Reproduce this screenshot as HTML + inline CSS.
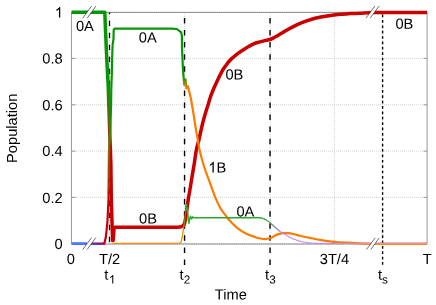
<!DOCTYPE html>
<html><head><meta charset="utf-8">
<style>
html,body{margin:0;padding:0;background:#fff;}
svg{display:block;will-change:transform;}
text{font-family:"Liberation Sans",sans-serif;font-size:14.67px;fill:#000;}
.sub{font-size:11.73px;}
</style></head><body>
<svg width="436" height="305" viewBox="0 0 436 305">
<defs>
<linearGradient id="gThick" gradientUnits="userSpaceOnUse" x1="0" y1="85" x2="0" y2="152">
<stop offset="0" stop-color="#059605"/><stop offset="0.5" stop-color="#7a5a05"/><stop offset="1" stop-color="#ca0000"/>
</linearGradient>
<linearGradient id="gMed" gradientUnits="userSpaceOnUse" x1="0" y1="115" x2="0" y2="203">
<stop offset="0" stop-color="#059605"/><stop offset="0.2" stop-color="#3a8a08"/><stop offset="0.4" stop-color="#7a6c00"/><stop offset="0.72" stop-color="#a44000"/><stop offset="1" stop-color="#ca0000"/>
</linearGradient>
<linearGradient id="gBlue" gradientUnits="userSpaceOnUse" x1="90" y1="0" x2="105.5" y2="0">
<stop offset="0" stop-color="#4a40e0"/><stop offset="0.5" stop-color="#5a22c8"/><stop offset="0.85" stop-color="#8a14a0"/><stop offset="1" stop-color="#c00838"/>
</linearGradient>
<linearGradient id="gLav" gradientUnits="userSpaceOnUse" x1="104" y1="0" x2="114" y2="0">
<stop offset="0" stop-color="#c0a8e8"/><stop offset="0.6" stop-color="#d8c8e0"/><stop offset="1" stop-color="#ff8c10"/>
</linearGradient>
<linearGradient id="gGO" gradientUnits="userSpaceOnUse" x1="0" y1="76" x2="0" y2="89">
<stop offset="0" stop-color="#059605"/><stop offset="0.6" stop-color="#969000"/><stop offset="1" stop-color="#ff7a00"/>
</linearGradient>
<linearGradient id="gThinUp" gradientUnits="userSpaceOnUse" x1="0" y1="243" x2="0" y2="208">
<stop offset="0" stop-color="#ff8c10"/><stop offset="0.35" stop-color="#c8a000"/><stop offset="0.7" stop-color="#6a8a00"/><stop offset="1" stop-color="#10a010"/>
</linearGradient>
<linearGradient id="gThinDn" gradientUnits="userSpaceOnUse" x1="267" y1="0" x2="281" y2="0">
<stop offset="0" stop-color="#2aa82a"/><stop offset="0.45" stop-color="#708898"/><stop offset="1" stop-color="#b888f0"/>
</linearGradient>
<path id="one" d="M763,0H583V1147Q518,1085 412.5,1023Q307,961 223,930V1104Q374,1175 487,1276Q600,1377 647,1472H763Z"/>
<linearGradient id="gTail" gradientUnits="userSpaceOnUse" x1="300" y1="0" x2="370" y2="0">
<stop offset="0" stop-color="#b888f0"/><stop offset="1" stop-color="#d890c8"/>
</linearGradient>
</defs>
<rect width="436" height="305" fill="#fff"/>
<!-- grid -->
<g stroke="#c8c8c8" stroke-width="0.8" stroke-dasharray="1 1" fill="none">
<path d="M72,58.4H427M72,104.8H427M72,151.1H427M72,197.4H427"/>
<path d="M109.5,12V243.5M184.5,12V243.5M270.2,12V243.5M334.4,12V243.5M382.5,12V243.5"/>
</g>
<!-- frame -->
<g stroke="#989898" stroke-width="1" fill="none">
<path d="M71.45,12.4H427.1V244H71.45Z"/>
<path d="M72,12.4H427M72,244H427" stroke="#707070" stroke-dasharray="1 1.1" stroke-opacity="0.6"/>
<path d="M72,58.4h3.5M72,104.8h3.5M72,151.1h3.5M72,197.4h3.5M427,58.4h-3.5M427,104.8h-3.5M427,151.1h-3.5M427,197.4h-3.5M334.4,244v-3.5M334.4,12.4v3.5"/>
</g>
<!-- vertical marker lines -->
<g stroke="#000" fill="none">
<path d="M109.5,12.4V243.8" stroke-width="1.3" stroke-dasharray="5.2 6.8" stroke-dashoffset="3.6"/>
<path d="M184.55,265V12.4" stroke-width="1.4" stroke-dasharray="5.5 6.58"/>
<path d="M270.05,265V12.4" stroke-width="1.4" stroke-dasharray="5.5 6.58"/>
<path d="M382.6,264.8V12.4" stroke-width="1.4" stroke-dasharray="2.7 2.68"/>
</g>
<!-- thick line -->
<g fill="none" stroke-width="3.5" stroke-linejoin="round">
<path d="M71.50,12.35L104.80,12.35L105.30,25.00L106.50,53.00L107.60,75.00L108.20,85.00L108.70,103.00L109.60,128.00L110.40,150.00L110.90,165.00L111.30,200.00L112.20,228.00L112.60,240.50L113.20,240.50L114.00,229.00L115.00,227.25L172.00,227.25" stroke="url(#gThick)"/>
<path d="M172.00,227.25C173.00,227.24 176.50,227.27 178.00,227.20C179.50,227.12 180.17,227.03 181.00,226.80C181.83,226.57 182.42,226.35 183.00,225.80C183.58,225.25 184.12,224.47 184.50,223.50C184.88,222.53 185.08,221.08 185.30,220.00C185.52,218.92 185.55,218.67 185.80,217.00C186.05,215.33 186.50,212.17 186.80,210.00C187.10,207.83 187.31,206.10 187.60,204.00C187.89,201.90 188.17,199.73 188.55,197.40C188.93,195.07 189.33,193.40 189.90,190.00C190.47,186.60 191.28,181.33 192.00,177.00C192.72,172.67 193.47,168.50 194.20,164.00C194.92,159.50 195.57,154.00 196.35,150.00C197.13,146.00 197.96,144.00 198.90,140.00C199.84,136.00 201.05,130.00 202.00,126.00C202.95,122.00 203.60,119.52 204.60,116.00C205.60,112.48 207.08,107.90 208.00,104.90C208.92,101.90 209.32,100.32 210.10,98.00C210.88,95.68 211.75,93.33 212.70,91.00C213.65,88.67 214.73,86.33 215.80,84.00C216.87,81.67 217.94,79.33 219.10,77.00C220.26,74.67 221.68,71.83 222.75,70.00C223.82,68.17 224.54,67.33 225.50,66.00C226.46,64.67 227.42,63.27 228.50,62.00C229.58,60.73 230.42,59.83 232.00,58.40C233.58,56.97 235.83,55.02 238.00,53.40C240.17,51.78 242.38,50.30 245.00,48.70C247.62,47.10 251.20,44.93 253.70,43.80C256.20,42.67 258.17,42.43 260.00,41.90C261.83,41.37 263.03,41.00 264.70,40.60C266.37,40.20 268.45,40.00 270.00,39.50C271.55,39.00 272.62,38.30 274.00,37.60C275.38,36.90 276.05,36.60 278.30,35.30C280.55,34.00 284.43,31.55 287.50,29.80C290.57,28.05 293.63,26.25 296.70,24.80C299.77,23.35 302.85,22.20 305.90,21.10C308.95,20.00 311.95,18.98 315.00,18.20C318.05,17.42 321.13,16.92 324.20,16.40C327.27,15.88 330.77,15.47 333.40,15.10C336.03,14.73 337.23,14.45 340.00,14.20C342.77,13.95 346.67,13.77 350.00,13.60C353.33,13.43 356.67,13.36 360.00,13.20C363.33,13.04 366.67,12.78 370.00,12.65C373.33,12.53 370.50,12.49 380.00,12.45C389.50,12.41 419.17,12.41 427.00,12.40" stroke="#ca0000"/>
</g>
<!-- medium line -->
<g fill="none" stroke-width="2.2" stroke-linejoin="round">
<path d="M71.5,243.6H87" stroke="#5078ff" stroke-width="2.8"/>
<path d="M90,242.9H104" stroke="#e86030" stroke-width="1.2"/>
<path d="M104,243.5H114" stroke="url(#gLav)" stroke-width="1.3"/>
<path d="M90,243.9H105.2" stroke="url(#gBlue)" stroke-width="2"/>
<path d="M103.8,243.9L104.9,241.5L106,236L106.8,228L107.4,222" stroke="#ca0000"/>
<path d="M107.40,222.00L108.50,200.00L108.80,165.00L109.00,150.00L110.40,128.00L111.10,103.00L111.30,88.00L111.80,75.00L112.30,53.00L112.60,45.00L113.50,39.00L113.70,30.00L114.50,28.55L172.00,28.55" stroke="url(#gMed)"/>
<path d="M172.00,28.55L176.80,29.00L181.20,32.40L181.90,36.00L182.00,48.00L183.00,70.00" stroke="#059605"/>
<path d="M183.00,70.00L184.20,85.00L185.50,79.50L186.50,88.50L188.00,86.50L190.80,98.00" stroke="url(#gGO)"/>
<path d="M190.80,98.00C191.20,100.33 192.43,107.33 193.20,112.00C193.97,116.67 194.63,121.37 195.40,126.00C196.17,130.63 197.10,135.80 197.80,139.80C198.50,143.80 198.73,146.13 199.60,150.00C200.47,153.87 201.82,159.00 203.00,163.00C204.18,167.00 205.23,169.83 206.70,174.00C208.17,178.17 210.33,184.00 211.80,188.00C213.27,192.00 214.08,194.67 215.50,198.00C216.92,201.33 218.32,204.72 220.30,208.00C222.28,211.28 225.45,215.20 227.40,217.70C229.35,220.20 230.37,221.32 232.00,223.00C233.63,224.68 234.82,226.00 237.20,227.80C239.58,229.60 243.25,232.23 246.30,233.80C249.35,235.37 253.22,236.43 255.50,237.20C257.78,237.97 258.38,238.08 260.00,238.40C261.62,238.72 263.53,239.12 265.20,239.10C266.87,239.08 268.62,238.73 270.00,238.30C271.38,237.87 272.23,237.15 273.50,236.50C274.77,235.85 276.02,234.95 277.60,234.40C279.18,233.85 281.43,233.40 283.00,233.20C284.57,233.00 285.33,233.07 287.00,233.20C288.67,233.33 290.83,233.57 293.00,234.00C295.17,234.43 297.17,235.15 300.00,235.80C302.83,236.45 306.67,237.23 310.00,237.90C313.33,238.57 316.00,239.15 320.00,239.80C324.00,240.45 329.83,241.32 334.00,241.80C338.17,242.28 340.67,242.45 345.00,242.70C349.33,242.95 354.17,243.14 360.00,243.30C365.83,243.46 368.83,243.59 380.00,243.65C391.17,243.71 419.17,243.65 427.00,243.65" stroke="#ff7a00"/>
</g>
<!-- thin line -->
<g fill="none" stroke-width="1.3" stroke-linejoin="round">
<path d="M113.5,243.4H178.8" stroke="#ff8c10"/>
<path d="M178.80,243.40C179.00,243.30 179.60,243.12 180.00,242.80C180.40,242.48 180.78,242.80 181.20,241.50C181.62,240.20 182.10,237.25 182.50,235.00C182.90,232.75 183.23,230.50 183.60,228.00C183.97,225.50 184.37,222.67 184.70,220.00C185.03,217.33 185.30,214.62 185.60,212.00C185.90,209.38 186.35,205.58 186.50,204.30" stroke="url(#gThinUp)"/>
<path d="M185.60,212.00L186.50,204.30L187.40,209.00L188.20,218.00L188.90,223.40L189.60,219.50L190.40,216.20L191.00,217.80L191.60,219.00L192.10,217.60L192.50,216.80L193.20,217.90L194.00,217.50L195.00,217.75L259.00,217.75L262.60,218.30" stroke="#2aa82a" stroke-width="1.4"/>
<path d="M262.60,218.30C263.20,218.58 264.90,219.22 266.20,220.00C267.50,220.78 268.93,221.78 270.40,223.00C271.87,224.22 273.40,225.88 275.00,227.30C276.60,228.72 279.17,230.80 280.00,231.50" stroke="url(#gThinDn)"/>
<path d="M280.00,231.50C280.83,231.98 283.33,233.40 285.00,234.40C286.67,235.40 288.33,236.63 290.00,237.50C291.67,238.37 293.33,238.98 295.00,239.60C296.67,240.22 298.33,240.77 300.00,241.20C301.67,241.63 303.33,241.92 305.00,242.20C306.67,242.48 308.33,242.72 310.00,242.90C311.67,243.08 311.67,243.20 315.00,243.30C318.33,243.40 311.33,243.47 330.00,243.50C348.67,243.53 410.83,243.50 427.00,243.50" stroke="url(#gTail)" stroke-width="1.1"/>
</g>
<!-- axis breaks -->
<g>
<path d="M82.7,18.3L91.5,6.1L95.9,6.1L87.1,18.3Z M82.7,249.6L91.5,237.6L95.9,237.6L87.1,249.6Z M366.2,17.9L374.9,6L379.1,6L370.3,17.9Z M366.4,249.6L375.2,237.9L379.2,237.9L370.8,249.6Z" fill="#fff"/>
<path d="M82.7,18.3L91.5,6.1M87.1,18.3L95.9,6.1M82.7,249.6L91.5,237.6M87.1,249.6L95.9,237.6M366.2,17.9L374.9,6M370.3,17.9L379.1,6M366.4,249.6L375.2,237.9M370.8,249.6L379.2,237.9" stroke="#111" stroke-width="0.6" fill="none"/>
</g>
<use href="#one" transform="translate(54.80,17.50) scale(0.007163,-0.007163)"/>
<text x="62.70" y="63.40" text-anchor="end" transform="rotate(0.03 62.70 63.40)">0.8</text>
<text x="62.70" y="110.20" text-anchor="end" transform="rotate(0.03 62.70 110.20)">0.6</text>
<text x="62.70" y="156.10" text-anchor="end" transform="rotate(0.03 62.70 156.10)">0.4</text>
<text x="62.70" y="202.90" text-anchor="end" transform="rotate(0.03 62.70 202.90)">0.2</text>
<text x="62.70" y="248.90" text-anchor="end" transform="rotate(0.03 62.70 248.90)">0</text>
<text x="70.80" y="264.00" text-anchor="middle" transform="rotate(0.03 70.80 264.00)">0</text>
<text x="109.60" y="264.00" text-anchor="middle" transform="rotate(0.03 109.60 264.00)">T/2</text>
<text x="334.40" y="264.00" text-anchor="middle" transform="rotate(0.03 334.40 264.00)">3T/4</text>
<text x="427.30" y="264.00" text-anchor="middle" transform="rotate(0.03 427.30 264.00)">T</text>
<text x="230.80" y="299.60" text-anchor="middle" transform="rotate(0.03 230.80 299.60)">Time</text>
<text transform="translate(16.7,128.3) rotate(-90)" text-anchor="middle">Population</text>
<text x="104.30" y="279.70" transform="rotate(0.03 104.30 279.70)">t</text>
<use href="#one" transform="translate(108.90,283.40) scale(0.005728,-0.005728)"/>
<text x="179.60" y="279.70" transform="rotate(0.03 179.60 279.70)">t</text><text x="183.68" y="283.40" transform="rotate(0.03 183.68 283.40)" class="sub">2</text>
<text x="265.10" y="279.70" transform="rotate(0.03 265.10 279.70)">t</text><text x="269.18" y="283.40" transform="rotate(0.03 269.18 283.40)" class="sub">3</text>
<text x="377.90" y="279.70" transform="rotate(0.03 377.90 279.70)">t</text><text x="381.98" y="283.40" transform="rotate(0.03 381.98 283.40)" class="sub">s</text>
<text x="75.90" y="31.00" transform="rotate(0.03 75.90 31.00)">0A</text>
<text x="138.80" y="42.40" transform="rotate(0.03 138.80 42.40)">0A</text>
<text x="395.40" y="28.70" transform="rotate(0.03 395.40 28.70)">0B</text>
<text x="225.40" y="79.60" transform="rotate(0.03 225.40 79.60)">0B</text>
<use href="#one" transform="translate(208.30,172.40) scale(0.007163,-0.007163)"/>
<text x="216.46" y="172.40" transform="rotate(0.03 216.46 172.40)">B</text>
<text x="236.40" y="216.60" transform="rotate(0.03 236.40 216.60)">0A</text>
<text x="139.05" y="223.60" transform="rotate(0.03 139.05 223.60)">0B</text>
</svg>
</body></html>
